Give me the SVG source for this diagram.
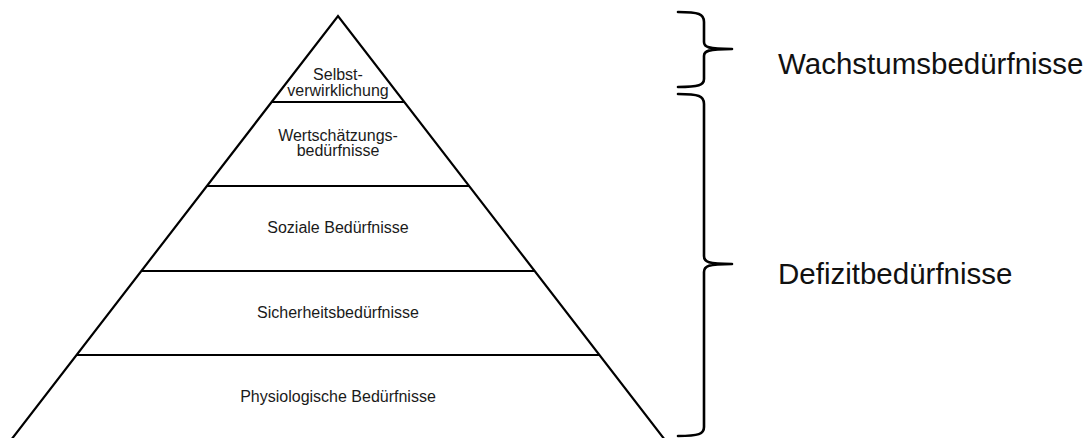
<svg xmlns="http://www.w3.org/2000/svg" width="1088" height="438" viewBox="0 0 1088 438">
  <style>
    .edge { fill: none; stroke: #000; stroke-width: 2.2; stroke-linecap: butt; stroke-linejoin: miter; }
    .brace { fill: none; stroke: #000; stroke-width: 2.6; stroke-linecap: round; stroke-linejoin: round; }
    .lvl { font-family: "Liberation Sans", Arial, sans-serif; font-size: 16px; fill: #1a1a1a; text-anchor: middle; }
    .grp { font-family: "Liberation Sans", Arial, sans-serif; font-size: 29.5px; fill: #111; }
  </style>
  <rect width="1088" height="438" fill="#fff"/>

  <!-- pyramid outline and level dividers -->
  <g id="connectors">
    <path class="edge" d="M11,440 L338,16 L665,440"/>
    <line class="edge" x1="272" y1="102" x2="404" y2="102"/>
    <line class="edge" x1="207" y1="186" x2="469" y2="186"/>
    <line class="edge" x1="142" y1="271" x2="534" y2="271"/>
    <line class="edge" x1="77" y1="355" x2="599" y2="355"/>
    <!-- curly braces grouping the levels -->
    <path class="brace" d="M678,12 C699,12 704,14 704,22 V42 C704,47 708,49 732,49 C708,49 704,51 704,56 V79 C704,85 699,87 678,87"/>
    <path class="brace" d="M678,94 C699,94 704,96 704,104 V256 C704,262 708,264 732,264 C708,264 704,266 704,272 V427 C704,434 699,436 678,436"/>
  </g>

  <g id="level-selbstverwirklichung">
    <text class="lvl" x="338" y="80">Selbst-</text>
    <text class="lvl" x="338" y="96">verwirklichung</text>
  </g>
  <g id="level-wertschaetzung">
    <text class="lvl" x="338" y="141">Wertschätzungs-</text>
    <text class="lvl" x="338" y="156">bedürfnisse</text>
  </g>
  <g id="level-sozial">
    <text class="lvl" x="338" y="233">Soziale Bedürfnisse</text>
  </g>
  <g id="level-sicherheit">
    <text class="lvl" x="338" y="318">Sicherheitsbedürfnisse</text>
  </g>
  <g id="level-physiologisch">
    <text class="lvl" x="338" y="402">Physiologische Bedürfnisse</text>
  </g>

  <g id="group-wachstum">
    <text class="grp" x="778" y="74">Wachstumsbedürfnisse</text>
  </g>
  <g id="group-defizit">
    <text class="grp" x="778" y="284">Defizitbedürfnisse</text>
  </g>
</svg>
